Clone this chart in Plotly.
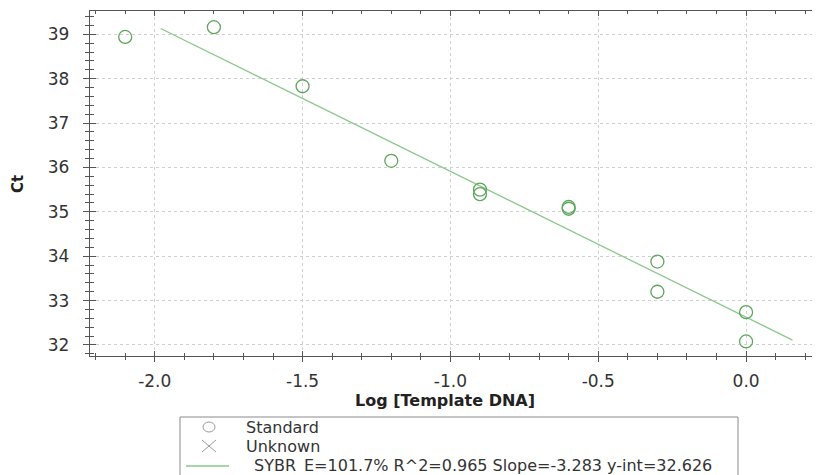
import plotly.graph_objects as go

# Data
log_dna = [-2.1, -1.8, -1.5, -1.2, -0.9, -0.9, -0.6, -0.6, -0.3, -0.3, 0.0, 0.0]
ct_vals = [38.94, 39.16, 37.83, 36.15, 35.50, 35.40, 35.11, 35.07, 33.88, 33.20, 32.74, 32.08]
fit_x = [-1.98, 0.157]
fit_y = [39.13, 32.11]
legend_labels = ["Standard", "Unknown", "SYBR"]
fit_stats = "E=101.7% R^2=0.965 Slope=-3.283 y-int=32.626"
x_ticks = [-2.0, -1.5, -1.0, -0.5, 0.0]
x_tick_text = ["-2.0", "-1.5", "-1.0", "-0.5", "0.0"]
y_ticks = [32, 33, 34, 35, 36, 37, 38, 39]

GREEN = "#5ea65e"
LINE_GREEN = "#8cc88c"
AX = "#555555"
GREY = "#9a9a9a"
FONT = "DejaVu Sans, Verdana, sans-serif"

OFF = 8                      # page body margin offset
W, H = 820 - OFF, 475 - OFF
PL, PR, PT, PB = 90, 820, 11, 356      # plot area in screen pixels
xr = [-2.219, 0.250]
yr = [31.752, 39.525]


def px(x):
    return (x - OFF) / W


def py(y):
    return 1 - (y - OFF) / H


fig = go.Figure()
fig.add_trace(go.Scatter(x=fit_x, y=fit_y, mode="lines",
                         line=dict(color=LINE_GREEN, width=1.3),
                         showlegend=False, hoverinfo="skip"))
fig.add_trace(go.Scatter(x=log_dna, y=ct_vals, mode="markers",
                         marker=dict(symbol="circle-open", size=13, color=GREEN,
                                     line=dict(color=GREEN, width=1.3)),
                         showlegend=False))
# host for overlay axes (inside half of the crossing ticks)
fig.add_trace(go.Scatter(x=[None], y=[None], xaxis="x2", yaxis="y2",
                         showlegend=False, hoverinfo="skip"))

axis_common = dict(zeroline=False, automargin=False)
fig.update_layout(
    width=W, height=H,
    margin=dict(l=0, r=0, t=0, b=0),
    paper_bgcolor="white", plot_bgcolor="white",
    font=dict(family=FONT, color="#333333"),
    showlegend=False,
    xaxis=dict(domain=[px(PL), min(1, px(PR))], range=xr, tickvals=x_ticks, ticktext=x_tick_text,
               tickfont=dict(size=17, color="#333"), ticklabelstandoff=4,
               showgrid=True, gridcolor="#d0d0d0", griddash="dot", gridwidth=1,
               showline=True, linecolor=AX, linewidth=1.3, mirror=True,
               ticks="outside", ticklen=5, tickcolor=AX,
               minor=dict(dtick=0.1, tick0=0, ticks="outside", ticklen=3,
                          tickcolor=AX, showgrid=False), **axis_common),
    yaxis=dict(domain=[py(PB), py(PT)], range=yr, tickvals=y_ticks,
               tickfont=dict(size=17, color="#333"), ticklabelstandoff=10,
               showgrid=True, gridcolor="#d0d0d0", griddash="dot", gridwidth=1,
               showline=True, linecolor=AX, linewidth=1.3,
               ticks="outside", ticklen=6, tickcolor=AX,
               minor=dict(dtick=0.2, tick0=0, ticks="outside", ticklen=4,
                          tickcolor=AX, showgrid=False), **axis_common),
    xaxis2=dict(overlaying="x", range=xr, tickvals=x_ticks, showticklabels=False,
                showgrid=False, showline=False, mirror="ticks",
                ticks="inside", ticklen=5, tickcolor=AX,
                minor=dict(dtick=0.1, tick0=0, ticks="inside", ticklen=3,
                           tickcolor=AX, showgrid=False), **axis_common),
    yaxis2=dict(overlaying="y", range=yr, tickvals=y_ticks, showticklabels=False,
                showgrid=False, showline=False,
                ticks="inside", ticklen=6, tickcolor=AX,
                minor=dict(dtick=0.2, tick0=0, ticks="inside", ticklen=4,
                           tickcolor=AX, showgrid=False), **axis_common),
)

# axis titles
ann = [
    dict(text="<b>Log [Template DNA]</b>", x=px(445), y=py(400),
         font=dict(size=16, color="#222")),
    dict(text="<b>Ct</b>", x=px(18), y=py(184), textangle=-90,
         font=dict(size=15, color="#222")),
]
# legend box (drawn manually)
rows = [427, 446, 465]
ann += [
    dict(text=legend_labels[0], x=px(244), y=py(rows[0]), xanchor="left",
         font=dict(size=16, color="#333")),
    dict(text=legend_labels[1], x=px(244), y=py(rows[1]), xanchor="left",
         font=dict(size=16, color="#333")),
    dict(text=legend_labels[2], x=px(252), y=py(rows[2]), xanchor="left",
         font=dict(size=16, color="#333")),
    dict(text=fit_stats, x=px(302), y=py(rows[2]), xanchor="left",
         font=dict(size=16, color="#333")),
]
for a in ann:
    a.setdefault("xanchor", "center")
    a.update(xref="paper", yref="paper", yanchor="middle", showarrow=False)
fig.update_layout(annotations=ann)

shapes = [
    dict(type="rect", x0=px(180), x1=px(738), y0=py(480), y1=py(417),
         line=dict(color="#8a8a8a", width=1), fillcolor="rgba(0,0,0,0)"),
    dict(type="circle", x0=px(203), x1=px(215), y0=py(rows[0] + 5), y1=py(rows[0] - 5),
         line=dict(color=GREY, width=1)),
    dict(type="line", x0=px(202), x1=px(216), y0=py(rows[1] - 6), y1=py(rows[1] + 6),
         line=dict(color=GREY, width=1)),
    dict(type="line", x0=px(202), x1=px(216), y0=py(rows[1] + 6), y1=py(rows[1] - 6),
         line=dict(color=GREY, width=1)),
    dict(type="line", x0=px(186), x1=px(229), y0=py(rows[2] + 1), y1=py(rows[2] + 1),
         line=dict(color=LINE_GREEN, width=1.3)),
]
for s in shapes:
    s.update(xref="paper", yref="paper")
fig.update_layout(shapes=shapes)

fig.write_html("out.html")
